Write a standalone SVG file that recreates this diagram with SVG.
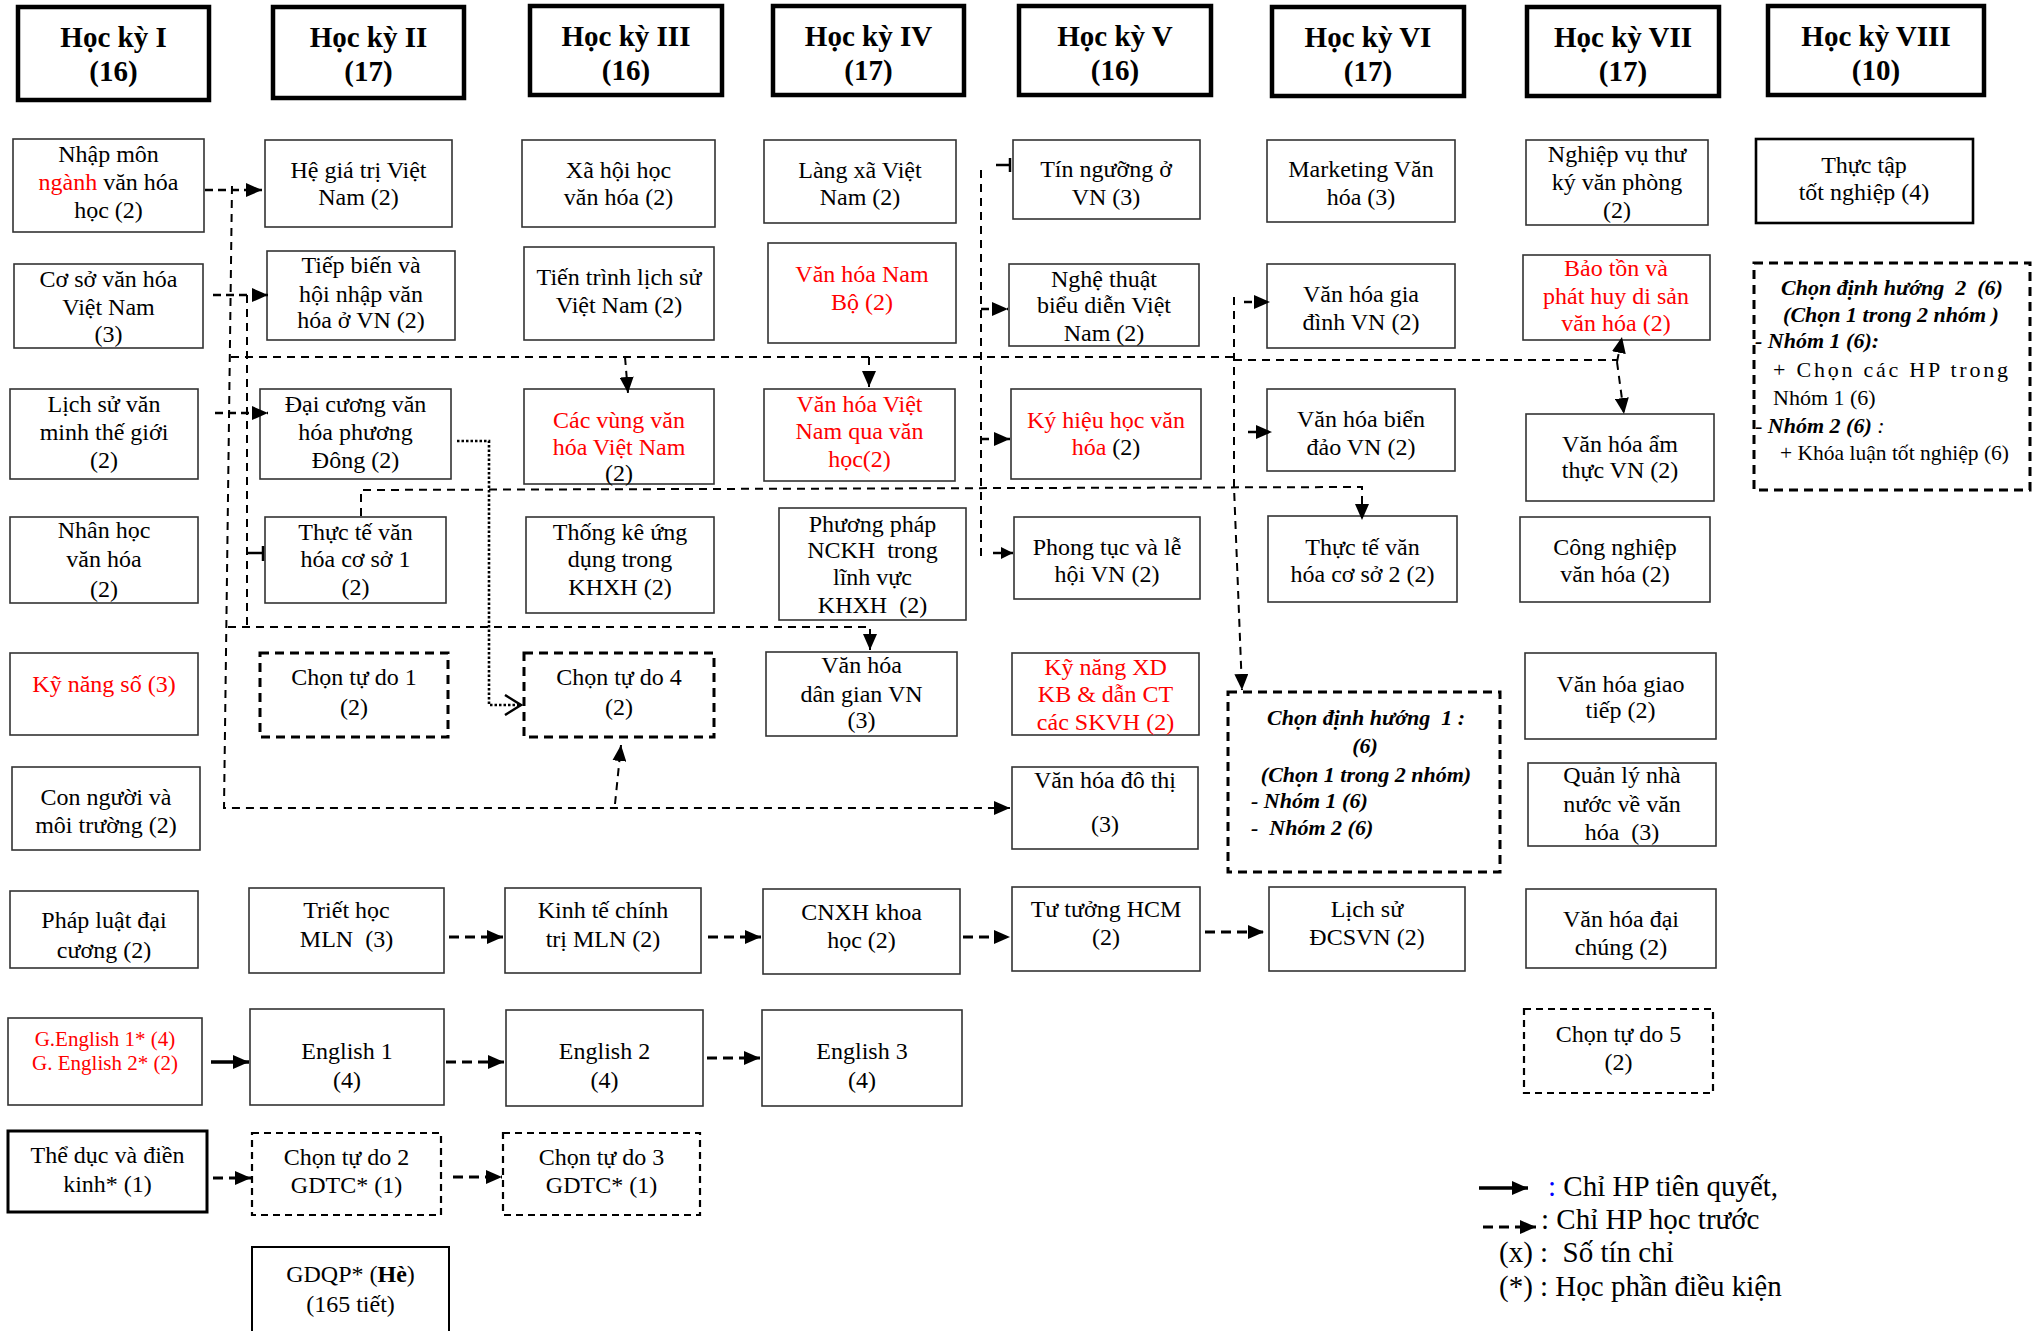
<svg xmlns="http://www.w3.org/2000/svg" width="2042" height="1331" viewBox="0 0 2042 1331">
<style>
.box{fill:#fff;stroke:#333;stroke-width:1.6}
.hdr{fill:#fff;stroke:#000;stroke-width:4.5}
.thk{fill:#fff;stroke:#000;stroke-width:3}
.db{fill:none;stroke:#000;stroke-width:3;stroke-dasharray:9 6}
.db2{fill:none;stroke:#000;stroke-width:2.2;stroke-dasharray:7 5}
text{font-family:"Liberation Serif","Times New Roman",serif;fill:#000}
.t{font-size:24px;text-anchor:middle}
.h{font-size:29px;font-weight:bold;text-anchor:middle}
.r{fill:#f00}
.bi{font-size:22px;font-weight:bold;font-style:italic}
.n22{font-size:22px}
.lg{font-size:29px}
.c{fill:none;stroke:#000;stroke-width:2;stroke-dasharray:8 6}
.ca{fill:none;stroke:#000;stroke-width:2.6;stroke-dasharray:8 5}
.cb{fill:none;stroke:#000;stroke-width:3.2;stroke-dasharray:10 6}
.s{fill:none;stroke:#000;stroke-width:3.5}
.dot{fill:none;stroke:#000;stroke-width:2.6;stroke-dasharray:2.5 2}
</style>
<defs>
<marker id="ah" viewBox="0 0 16 14" refX="16" refY="7" markerWidth="16" markerHeight="14" markerUnits="userSpaceOnUse" orient="auto"><path d="M0,0 L16,7 L0,14 z" fill="#000"/></marker>
<marker id="ahs" viewBox="0 0 12 12" refX="12" refY="6" markerWidth="12" markerHeight="12" markerUnits="userSpaceOnUse" orient="auto"><path d="M0,0 L12,6 L0,12 z" fill="#000"/></marker>
<marker id="open" viewBox="0 0 20 22" refX="18" refY="11" markerWidth="20" markerHeight="22" markerUnits="userSpaceOnUse" orient="auto"><path d="M2,1 L18,11 L2,21" fill="none" stroke="#000" stroke-width="2.5"/></marker>
</defs>

<!-- Headers -->
<g id="hk1"><rect class="hdr" x="18" y="7" width="191" height="93"/><text class="h" x="113.5" y="47">Học kỳ I</text><text class="h" x="113.5" y="81">(16)</text></g>
<g id="hk2"><rect class="hdr" x="273" y="7" width="191" height="91"/><text class="h" x="368.5" y="47">Học kỳ II</text><text class="h" x="368.5" y="81">(17)</text></g>
<g id="hk3"><rect class="hdr" x="530" y="6" width="192" height="89"/><text class="h" x="626" y="46">Học kỳ III</text><text class="h" x="626" y="80">(16)</text></g>
<g id="hk4"><rect class="hdr" x="773" y="6" width="191" height="89"/><text class="h" x="868.5" y="46">Học kỳ IV</text><text class="h" x="868.5" y="80">(17)</text></g>
<g id="hk5"><rect class="hdr" x="1019" y="6" width="192" height="89"/><text class="h" x="1115" y="46">Học kỳ V</text><text class="h" x="1115" y="80">(16)</text></g>
<g id="hk6"><rect class="hdr" x="1272" y="7" width="192" height="89"/><text class="h" x="1368" y="47">Học kỳ VI</text><text class="h" x="1368" y="81">(17)</text></g>
<g id="hk7"><rect class="hdr" x="1527" y="7" width="192" height="89"/><text class="h" x="1623" y="47">Học kỳ VII</text><text class="h" x="1623" y="81">(17)</text></g>
<g id="hk8"><rect class="hdr" x="1768" y="6" width="216" height="89"/><text class="h" x="1876" y="46">Học kỳ VIII</text><text class="h" x="1876" y="80">(10)</text></g>

<!-- Row 1 -->
<g id="nhap-mon"><rect class="box" x="13" y="139" width="191" height="93"/><text class="t" x="108.5" y="162">Nhập môn</text><text class="t" x="108.5" y="190"><tspan class="r">ngành</tspan> văn hóa</text><text class="t" x="108.5" y="218">học (2)</text></g>
<g id="he-gia-tri"><rect class="box" x="265" y="140" width="187" height="87"/><text class="t" x="358.5" y="178">Hệ giá trị Việt</text><text class="t" x="358.5" y="205">Nam (2)</text></g>
<g id="xa-hoi-hoc"><rect class="box" x="522" y="140" width="193" height="87"/><text class="t" x="618.5" y="178">Xã hội học</text><text class="t" x="618.5" y="205">văn hóa (2)</text></g>
<g id="lang-xa"><rect class="box" x="764" y="140" width="192" height="83"/><text class="t" x="860" y="178">Làng xã Việt</text><text class="t" x="860" y="205">Nam (2)</text></g>
<g id="tin-nguong"><rect class="box" x="1013" y="140" width="187" height="79"/><text class="t" x="1106" y="177">Tín ngưỡng ở</text><text class="t" x="1106" y="205">VN (3)</text></g>
<g id="marketing"><rect class="box" x="1267" y="140" width="188" height="82"/><text class="t" x="1361" y="177">Marketing Văn</text><text class="t" x="1361" y="205">hóa (3)</text></g>
<g id="nghiep-vu"><rect class="box" x="1526" y="140" width="182" height="85"/><text class="t" x="1617" y="162">Nghiệp vụ thư</text><text class="t" x="1617" y="190">ký văn phòng</text><text class="t" x="1617" y="218">(2)</text></g>
<g id="thuc-tap"><rect class="thk" x="1756" y="139" width="217" height="84" style="stroke-width:2.6"/><text class="t" x="1864" y="173">Thực tập</text><text class="t" x="1864" y="200">tốt nghiệp (4)</text></g>

<!-- Row 2 -->
<g id="co-so"><rect class="box" x="14" y="264" width="189" height="84"/><text class="t" x="108.5" y="287">Cơ sở văn hóa</text><text class="t" x="108.5" y="315">Việt Nam</text><text class="t" x="108.5" y="342">(3)</text></g>
<g id="tiep-bien"><rect class="box" x="267" y="251" width="188" height="89"/><text class="t" x="361" y="273">Tiếp biến và</text><text class="t" x="361" y="302">hội nhập văn</text><text class="t" x="361" y="328">hóa ở VN (2)</text></g>
<g id="tien-trinh"><rect class="box" x="524" y="247" width="190" height="93"/><text class="t" x="619" y="285">Tiến trình lịch sử</text><text class="t" x="619" y="313">Việt Nam (2)</text></g>
<g id="nam-bo"><rect class="box" x="768" y="243" width="188" height="100"/><text class="t r" x="862" y="282">Văn hóa Nam</text><text class="t r" x="862" y="310">Bộ (2)</text></g>
<g id="nghe-thuat"><rect class="box" x="1009" y="264" width="190" height="82"/><text class="t" x="1104" y="287">Nghệ thuật</text><text class="t" x="1104" y="313">biểu diễn Việt</text><text class="t" x="1104" y="341">Nam (2)</text></g>
<g id="gia-dinh"><rect class="box" x="1267" y="264" width="188" height="84"/><text class="t" x="1361" y="302">Văn hóa gia</text><text class="t" x="1361" y="330">đình VN (2)</text></g>
<g id="bao-ton"><rect class="box" x="1523" y="255" width="187" height="85"/><text class="t r" x="1616" y="276">Bảo tồn và</text><text class="t r" x="1616" y="304">phát huy di sản</text><text class="t r" x="1616" y="331">văn hóa (2)</text></g>
<g id="dinh-huong-2"><rect class="db" x="1754" y="263" width="276" height="227"/>
<text class="bi" x="1892" y="295" text-anchor="middle" xml:space="preserve">Chọn định hướng  2  (6)</text>
<text class="bi" x="1891" y="322" text-anchor="middle">(Chọn 1 trong 2 nhóm )</text>
<text class="bi" x="1755" y="348">- Nhóm 1 (6):</text>
<text class="n22" x="1773" y="377" textLength="235" lengthAdjust="spacing">+ Chọn các HP trong</text>
<text class="n22" x="1773" y="405">Nhóm 1 (6)</text>
<text class="n22" x="1755" y="433">- <tspan class="bi">Nhóm 2 (6)</tspan><tspan font-style="italic"> :</tspan></text>
<text class="n22" x="1780" y="460" textLength="229" lengthAdjust="spacingAndGlyphs">+ Khóa luận tốt nghiệp (6)</text>
</g>

<!-- Row 3 -->
<g id="lich-su-vm"><rect class="box" x="10" y="389" width="188" height="90"/><text class="t" x="104" y="412">Lịch sử văn</text><text class="t" x="104" y="440">minh thế giới</text><text class="t" x="104" y="468">(2)</text></g>
<g id="dai-cuong"><rect class="box" x="260" y="389" width="191" height="90"/><text class="t" x="355.5" y="412">Đại cương văn</text><text class="t" x="355.5" y="440">hóa phương</text><text class="t" x="355.5" y="468">Đông (2)</text></g>
<g id="cac-vung"><rect class="box" x="524" y="389" width="190" height="95"/><text class="t r" x="619" y="428">Các vùng văn</text><text class="t r" x="619" y="455">hóa Việt Nam</text><text class="t" x="619" y="481">(2)</text></g>
<g id="vh-van-hoc"><rect class="box" x="764" y="389" width="191" height="92"/><text class="t r" x="859.5" y="412">Văn hóa Việt</text><text class="t r" x="859.5" y="439">Nam qua văn</text><text class="t r" x="859.5" y="467">học(2)</text></g>
<g id="ky-hieu"><rect class="box" x="1011" y="389" width="190" height="90"/><text class="t r" x="1106" y="428">Ký hiệu học văn</text><text class="t" x="1106" y="455"><tspan class="r">hóa</tspan> (2)</text></g>
<g id="bien-dao"><rect class="box" x="1267" y="389" width="188" height="82"/><text class="t" x="1361" y="427">Văn hóa biển</text><text class="t" x="1361" y="455">đảo VN (2)</text></g>
<g id="am-thuc"><rect class="box" x="1526" y="414" width="188" height="87"/><text class="t" x="1620" y="452">Văn hóa ẩm</text><text class="t" x="1620" y="478">thực VN (2)</text></g>

<!-- Row 4 -->
<g id="nhan-hoc"><rect class="box" x="10" y="517" width="188" height="86"/><text class="t" x="104" y="538">Nhân học</text><text class="t" x="104" y="567">văn hóa</text><text class="t" x="104" y="597">(2)</text></g>
<g id="thuc-te-1"><rect class="box" x="265" y="517" width="181" height="86"/><text class="t" x="355.5" y="540">Thực tế văn</text><text class="t" x="355.5" y="567">hóa cơ sở 1</text><text class="t" x="355.5" y="595">(2)</text></g>
<g id="thong-ke"><rect class="box" x="526" y="517" width="188" height="96"/><text class="t" x="620" y="540">Thống kê ứng</text><text class="t" x="620" y="567">dụng trong</text><text class="t" x="620" y="595">KHXH (2)</text></g>
<g id="phuong-phap"><rect class="box" x="779" y="508" width="187" height="112"/><text class="t" x="872.5" y="532">Phương pháp</text><text class="t" x="872.5" y="558" xml:space="preserve">NCKH  trong</text><text class="t" x="872.5" y="585">lĩnh vực</text><text class="t" x="872.5" y="613" xml:space="preserve">KHXH  (2)</text></g>
<g id="phong-tuc"><rect class="box" x="1014" y="517" width="186" height="82"/><text class="t" x="1107" y="555">Phong tục và lễ</text><text class="t" x="1107" y="582">hội VN (2)</text></g>
<g id="thuc-te-2"><rect class="box" x="1268" y="516" width="189" height="86"/><text class="t" x="1362.5" y="555">Thực tế văn</text><text class="t" x="1362.5" y="582">hóa cơ sở 2 (2)</text></g>
<g id="cong-nghiep"><rect class="box" x="1520" y="517" width="190" height="85"/><text class="t" x="1615" y="555">Công nghiệp</text><text class="t" x="1615" y="582">văn hóa (2)</text></g>

<!-- Row 5 -->
<g id="ky-nang-so"><rect class="box" x="10" y="653" width="188" height="82"/><text class="t r" x="104" y="692">Kỹ năng số (3)</text></g>
<g id="tu-do-1"><rect class="db" x="260" y="653" width="188" height="84"/><text class="t" x="354" y="685">Chọn tự do 1</text><text class="t" x="354" y="715">(2)</text></g>
<g id="tu-do-4"><rect class="db" x="524" y="653" width="190" height="84"/><text class="t" x="619" y="685">Chọn tự do 4</text><text class="t" x="619" y="715">(2)</text></g>
<g id="dan-gian"><rect class="box" x="766" y="652" width="191" height="84"/><text class="t" x="861.5" y="673">Văn hóa</text><text class="t" x="861.5" y="702">dân gian VN</text><text class="t" x="861.5" y="728">(3)</text></g>
<g id="ky-nang-xd"><rect class="box" x="1012" y="653" width="187" height="82"/><text class="t r" x="1105.5" y="675">Kỹ năng XD</text><text class="t r" x="1105.5" y="702">KB &amp; dẫn CT</text><text class="t r" x="1105.5" y="730">các SKVH (2)</text></g>
<g id="dinh-huong-1"><rect class="db" x="1228" y="692" width="272" height="180"/>
<text class="bi" x="1366" y="725" text-anchor="middle" xml:space="preserve">Chọn định hướng  1 :</text>
<text class="bi" x="1365" y="753" text-anchor="middle">(6)</text>
<text class="bi" x="1366" y="782" text-anchor="middle">(Chọn 1 trong 2 nhóm)</text>
<text class="bi" x="1251" y="808">- Nhóm 1 (6)</text>
<text class="bi" x="1251" y="835" xml:space="preserve">-  Nhóm 2 (6)</text>
</g>
<g id="giao-tiep"><rect class="box" x="1525" y="653" width="191" height="86"/><text class="t" x="1620.5" y="692">Văn hóa giao</text><text class="t" x="1620.5" y="718">tiếp (2)</text></g>

<!-- Row 6 -->
<g id="con-nguoi"><rect class="box" x="12" y="767" width="188" height="83"/><text class="t" x="106" y="805">Con người và</text><text class="t" x="106" y="833">môi trường (2)</text></g>
<g id="do-thi"><rect class="box" x="1012" y="767" width="186" height="82"/><text class="t" x="1105" y="788">Văn hóa đô thị</text><text class="t" x="1105" y="832">(3)</text></g>
<g id="quan-ly"><rect class="box" x="1528" y="763" width="188" height="83"/><text class="t" x="1622" y="783">Quản lý nhà</text><text class="t" x="1622" y="812">nước về văn</text><text class="t" x="1622" y="840" xml:space="preserve">hóa  (3)</text></g>

<!-- Row 7 -->
<g id="phap-luat"><rect class="box" x="10" y="891" width="188" height="77"/><text class="t" x="104" y="928">Pháp luật đại</text><text class="t" x="104" y="958">cương (2)</text></g>
<g id="triet-hoc"><rect class="box" x="249" y="888" width="195" height="85"/><text class="t" x="346.5" y="918">Triết học</text><text class="t" x="346.5" y="947" xml:space="preserve">MLN  (3)</text></g>
<g id="kinh-te"><rect class="box" x="505" y="888" width="196" height="85"/><text class="t" x="603" y="918">Kinh tế chính</text><text class="t" x="603" y="947">trị MLN (2)</text></g>
<g id="cnxh"><rect class="box" x="763" y="889" width="197" height="85"/><text class="t" x="861.5" y="920">CNXH khoa</text><text class="t" x="861.5" y="948">học (2)</text></g>
<g id="tu-tuong"><rect class="box" x="1012" y="887" width="188" height="84"/><text class="t" x="1106" y="917">Tư tưởng HCM</text><text class="t" x="1106" y="945">(2)</text></g>
<g id="dcsvn"><rect class="box" x="1269" y="887" width="196" height="84"/><text class="t" x="1367" y="917">Lịch sử</text><text class="t" x="1367" y="945">ĐCSVN (2)</text></g>
<g id="dai-chung"><rect class="box" x="1526" y="889" width="190" height="79"/><text class="t" x="1621" y="927">Văn hóa đại</text><text class="t" x="1621" y="955">chúng (2)</text></g>

<!-- Row 8 -->
<g id="g-english"><rect class="box" x="8" y="1018" width="194" height="87"/><text class="t r" x="105" y="1046" style="font-size:21px">G.English 1* (4)</text><text class="t r" x="105" y="1070" style="font-size:21px">G. English 2* (2)</text></g>
<g id="english-1"><rect class="box" x="250" y="1009" width="194" height="96"/><text class="t" x="347" y="1059">English 1</text><text class="t" x="347" y="1088">(4)</text></g>
<g id="english-2"><rect class="box" x="506" y="1010" width="197" height="96"/><text class="t" x="604.5" y="1059">English 2</text><text class="t" x="604.5" y="1088">(4)</text></g>
<g id="english-3"><rect class="box" x="762" y="1010" width="200" height="96"/><text class="t" x="862" y="1059">English 3</text><text class="t" x="862" y="1088">(4)</text></g>
<g id="tu-do-5"><rect class="db2" x="1524" y="1009" width="189" height="84"/><text class="t" x="1618.5" y="1042">Chọn tự do 5</text><text class="t" x="1618.5" y="1070">(2)</text></g>

<!-- Row 9 -->
<g id="the-duc"><rect class="thk" x="8" y="1131" width="199" height="81"/><text class="t" x="107.5" y="1163">Thể dục và điền</text><text class="t" x="107.5" y="1192">kinh* (1)</text></g>
<g id="tu-do-2"><rect class="db2" x="252" y="1133" width="189" height="82"/><text class="t" x="346.5" y="1165">Chọn tự do 2</text><text class="t" x="346.5" y="1193">GDTC* (1)</text></g>
<g id="tu-do-3"><rect class="db2" x="503" y="1133" width="197" height="82"/><text class="t" x="601.5" y="1165">Chọn tự do 3</text><text class="t" x="601.5" y="1193">GDTC* (1)</text></g>

<!-- Row 10 -->
<g id="gdqp"><rect class="box" x="252" y="1247" width="197" height="100" style="stroke:#000;stroke-width:2"/><text class="t" x="350.5" y="1282">GDQP* (<tspan font-weight="bold">Hè</tspan>)</text><text class="t" x="350.5" y="1312">(165 tiết)</text></g>

<!-- Connectors -->
<g id="connectors">
<path class="ca" d="M205,190 H262" marker-end="url(#ah)"/>
<path class="ca" d="M213,295 H268" marker-end="url(#ah)"/>
<path class="ca" d="M215,413 H268" marker-end="url(#ah)"/>
<path class="c" d="M232,186 L224,808 H1010" marker-end="url(#ah)"/>
<path class="c" d="M615,804 L621,745" marker-end="url(#ah)"/>
<path class="c" d="M247,295 V627"/>
<path class="c" d="M228,627 H870 V650" marker-end="url(#ah)"/>
<path class="c" d="M231,357 H1234"/>
<path class="c" d="M1234,360 H1617"/>
<path class="c" d="M625,357 L628,393" marker-end="url(#ah)"/>
<path class="c" d="M869,357 V387" marker-end="url(#ah)"/>
<path class="s" d="M247,553 H262" style="stroke-width:2.5"/>
<path class="s" d="M263,546 V561" style="stroke-width:2.5"/>
<path class="c" d="M981,170 V562"/>
<path class="s" d="M996,165 H1010" style="stroke-width:2.5"/>
<path class="s" d="M1010,158 V172" style="stroke-width:2.5"/>
<path class="ca" d="M981,309 H1008" marker-end="url(#ah)"/>
<path class="ca" d="M981,439 H1010" marker-end="url(#ah)"/>
<path class="s" d="M993,553 H1013" style="stroke-width:2.5" marker-end="url(#ahs)"/>
<path class="c" d="M1234,297 V487 L1242,690" marker-end="url(#ah)"/>
<path class="ca" d="M1244,302 H1270" marker-end="url(#ah)"/>
<path class="ca" d="M1248,432 H1272" marker-end="url(#ah)"/>
<path class="c" d="M1617,362 L1622,337" marker-end="url(#ah)"/>
<path class="c" d="M1617,362 L1624,414" marker-end="url(#ah)"/>
<path class="c" d="M361,516 L361,490 L1362,487 V520" marker-end="url(#ah)"/>
<path class="dot" d="M457,441 H489 V705 H521" marker-end="url(#open)"/>
<path class="cb" d="M449,937 H503" marker-end="url(#ah)"/>
<path class="cb" d="M708,937 H761" marker-end="url(#ah)"/>
<path class="cb" d="M963,937 H1010" marker-end="url(#ah)"/>
<path class="cb" d="M1205,932 H1264" marker-end="url(#ah)"/>
<path class="s" d="M211,1062 H249" marker-end="url(#ah)"/>
<path class="cb" d="M446,1062 H504" marker-end="url(#ah)"/>
<path class="cb" d="M707,1058 H760" marker-end="url(#ah)"/>
<path class="cb" d="M213,1178 H251" marker-end="url(#ah)"/>
<path class="cb" d="M453,1177 H502" marker-end="url(#ah)"/>
</g>

<!-- Legend -->
<g id="legend">
<path class="s" d="M1479,1188 H1528" marker-end="url(#ah)"/>
<text class="lg" x="1548" y="1196"><tspan fill="#00f">:</tspan> Chỉ HP tiên quyết,</text>
<path class="cb" d="M1483,1227 H1536" marker-end="url(#ah)"/>
<text class="lg" x="1541" y="1229">: Chỉ HP học trước</text>
<text class="lg" x="1499" y="1262" xml:space="preserve">(x) :  Số tín chỉ</text>
<text class="lg" x="1499" y="1296">(*) : Học phần điều kiện</text>
</g>
</svg>
